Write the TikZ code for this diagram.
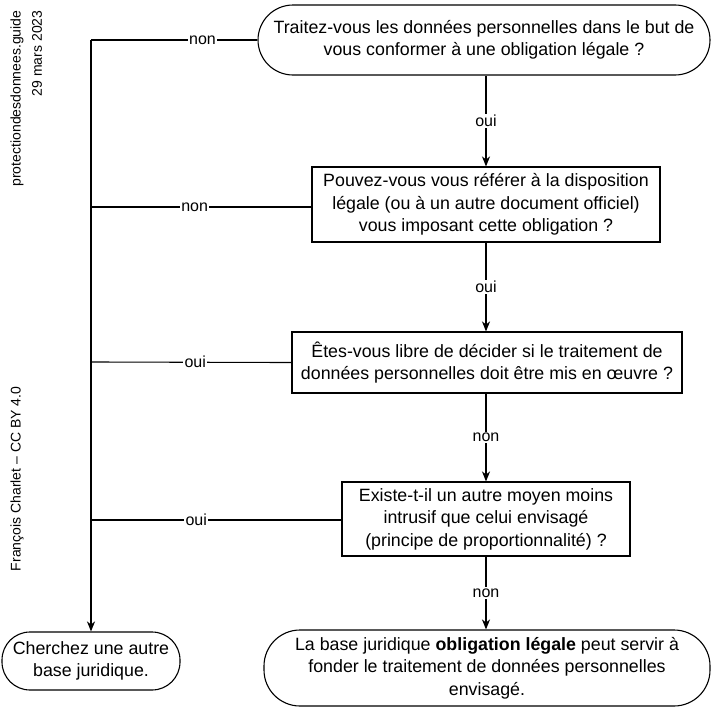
\documentclass[tikz,border=0pt]{standalone}
\usepackage{fontspec}
\setmainfont{Liberation Sans}
\usetikzlibrary{arrows.meta}
\begin{document}
\begin{tikzpicture}[x=1pt,y=-1pt,
  every path/.style={line width=1.1pt},
  bx/.style={draw, fill=white, align=center, inner sep=0pt, font=\fontsize{17.8}{22.5}\selectfont},
  lbl/.style={fill=white, inner sep=1.5pt, font=\fontsize{16}{18}\selectfont},
  side/.style={rotate=90, font=\fontsize{14}{16}\selectfont, inner sep=0pt},
  arr/.style={-{Stealth[length=10pt,width=8pt,inset=3pt]}}
]
\useasboundingbox (0,0) rectangle (719,720);

\node[bx, minimum width=452pt, minimum height=70pt, rounded corners=35pt] (q1) at (484,40)
  {Traitez-vous les données personnelles dans le but de\\vous conformer à une obligation légale ?};
\node[bx, minimum width=348pt, minimum height=75pt] (q2) at (486,204.5)
  {Pouvez-vous vous référer à la disposition\\légale (ou à un autre document officiel)\\vous imposant cette obligation ?};
\node[bx, minimum width=390pt, minimum height=61pt] (q3) at (487,362.5)
  {Êtes-vous libre de décider si le traitement de\\données personnelles doit être mis en œuvre ?};
\node[bx, minimum width=288pt, minimum height=74pt] (q4) at (486,519)
  {Existe-t-il un autre moyen moins\\intrusif que celui envisagé\\(principe de proportionnalité) ?};
\node[bx, minimum width=446pt, minimum height=76pt, rounded corners=36pt] (r1) at (487,668)
  {La base juridique \textbf{obligation légale} peut servir à\\fonder le traitement de données personnelles\\envisagé.};
\node[bx, minimum width=178pt, minimum height=58pt, rounded corners=28pt] (r2) at (91,661)
  {Cherchez une autre\\base juridique.};

\coordinate (c1) at (91,40);
\coordinate (c2) at (91,207);
\coordinate (c3) at (91,362);
\coordinate (c4) at (91,520);

\draw (q1.west) -- node[lbl, pos=0.33]{non} (c1);
\draw[arr] (c1) -- (r2.north);
\draw (q2.west |- c2) -- node[lbl, pos=0.53]{non} (c2);
\draw (q3.west) -- node[lbl, pos=0.48]{oui} (c3);
\draw (q4.west |- c4) -- node[lbl, pos=0.58]{oui} (c4);

\draw[arr] (q1.south -| q2.north) -- node[lbl]{oui} (q2.north);
\draw[arr] (q2.south) -- node[lbl]{oui} (q2.south |- q3.north);
\draw[arr] (q2.south |- q3.south) -- node[lbl]{non} (q4.north);
\draw[arr] (q4.south) -- node[lbl]{non} (q4.south |- r1.north);

\node[side, anchor=east] (t1) at (17,10) {protectiondesdonnees.guide};
\node[side, anchor=east] (t2) at (37,10) {29 mars 2023};
\node[side] (t3) at (17,479) {François Charlet – CC BY 4.0};
\end{tikzpicture}
\end{document}
